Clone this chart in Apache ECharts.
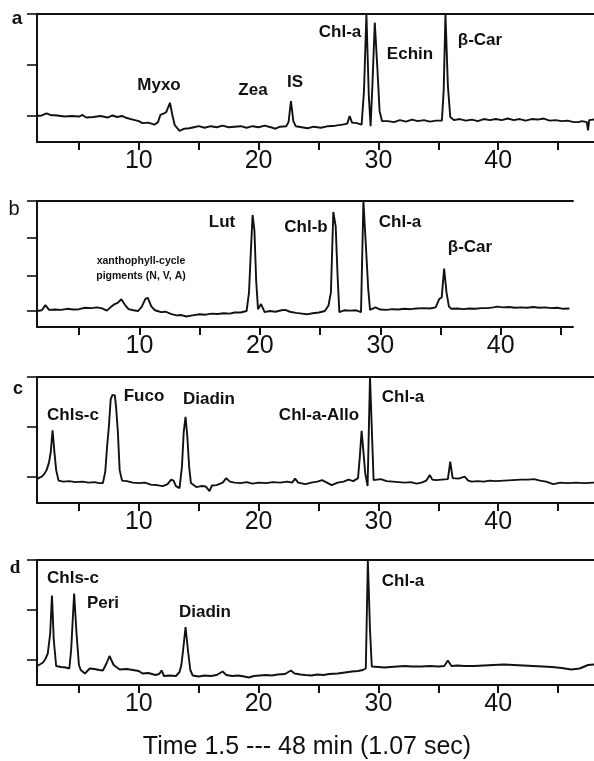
<!DOCTYPE html>
<html>
<head>
<meta charset="utf-8">
<script src="https://cdn.jsdelivr.net/npm/echarts@6/dist/echarts.min.js"></script>
<style>
  html, body { margin: 0; padding: 0; background: #fff; }
  #chart { width: 594px; height: 761px; }
</style>
</head>
<body>
<div id="chart"></div>
<script>
// Retention time (min) vs detector response for four pigment extracts.
const traceA = [[1.5,0],[1.9,0.01],[2.3,0.05],[2.6,0.02],[3.2,0.01],[3.8,-0.01],[4.4,0],[5.0,-0.01],[5.3,0.02],[5.6,-0.03],[6.2,-0.02],[6.8,0],[7.4,-0.03],[7.8,0.01],[8.2,-0.02],[8.6,0],[9.0,-0.04],[9.5,-0.07],[10.0,-0.1],[10.3,-0.14],[10.8,-0.13],[11.3,-0.17],[11.6,-0.12],[11.8,0.02],[12.1,0.05],[12.3,0.08],[12.6,0.26],[12.8,0.02],[13.0,-0.18],[13.4,-0.29],[13.8,-0.25],[14.2,-0.24],[14.6,-0.22],[15.0,-0.2],[15.5,-0.23],[16.0,-0.2],[16.5,-0.22],[17.0,-0.19],[17.5,-0.22],[18.0,-0.21],[18.5,-0.2],[19.0,-0.23],[19.5,-0.2],[20.0,-0.22],[20.5,-0.19],[21.0,-0.22],[21.4,-0.25],[21.8,-0.21],[22.3,-0.2],[22.5,-0.12],[22.7,0.29],[22.9,-0.1],[23.1,-0.2],[23.6,-0.22],[24.1,-0.24],[24.6,-0.21],[25.2,-0.23],[25.8,-0.2],[26.4,-0.19],[27.0,-0.17],[27.4,-0.15],[27.6,0.0],[27.8,-0.13],[28.2,-0.14],[28.6,-0.17],[28.8,0.5],[29.0,2.0],[29.2,0.4],[29.35,-0.2],[29.5,0.6],[29.7,1.83],[29.9,1.0],[30.1,0.1],[30.3,-0.1],[30.8,-0.1],[31.3,-0.12],[31.8,-0.08],[32.3,-0.11],[32.8,-0.07],[33.3,-0.1],[33.8,-0.08],[34.3,-0.11],[34.8,-0.09],[35.3,-0.09],[35.45,0.5],[35.6,2.0],[35.8,0.6],[36.0,-0.02],[36.3,-0.08],[36.8,-0.06],[37.3,-0.09],[37.8,-0.07],[38.3,-0.1],[38.8,-0.06],[39.3,-0.08],[39.8,-0.06],[40.3,-0.08],[40.8,-0.05],[41.3,-0.08],[41.8,-0.06],[42.3,-0.09],[42.8,-0.06],[43.3,-0.07],[43.8,-0.05],[44.3,-0.09],[44.8,-0.08],[45.3,-0.1],[45.8,-0.09],[46.3,-0.12],[46.7,-0.12],[47.0,-0.1],[47.4,-0.12],[47.5,-0.28],[47.6,-0.08],[48,-0.07]];

const traceB = [[1.5,0],[1.9,0.02],[2.2,0.16],[2.5,0.03],[3.0,0.04],[3.5,0.03],[4.0,0.06],[4.5,0.04],[5.0,0.05],[5.5,0.09],[6.0,0.08],[6.5,0.1],[6.9,0.07],[7.3,0.01],[7.6,0.1],[7.9,0.18],[8.2,0.22],[8.5,0.32],[8.8,0.17],[9.1,0.05],[9.5,0.02],[9.9,0.0],[10.2,0.12],[10.5,0.33],[10.7,0.36],[11.0,0.12],[11.3,0.02],[11.8,-0.03],[12.2,-0.02],[12.6,-0.08],[13.1,-0.12],[13.5,-0.11],[13.9,-0.15],[14.4,-0.12],[15.0,-0.09],[15.5,-0.1],[16.0,-0.07],[16.5,-0.08],[17.0,-0.06],[17.5,-0.07],[17.9,-0.04],[18.4,-0.04],[18.9,0.0],[19.1,0.5],[19.25,1.6],[19.4,2.62],[19.55,2.2],[19.7,0.8],[19.85,0.05],[20.1,0.19],[20.4,-0.03],[20.8,0.0],[21.3,-0.02],[21.8,0.02],[22.1,0.03],[22.5,-0.02],[23.0,-0.05],[23.5,-0.07],[23.9,-0.09],[24.4,-0.06],[24.9,-0.04],[25.4,0.0],[25.7,0.15],[25.9,0.5],[26.1,2.7],[26.3,2.3],[26.45,1.0],[26.6,-0.03],[27.0,0.02],[27.5,0.01],[28.0,0.02],[28.4,-0.03],[28.5,1.5],[28.6,3.0],[28.8,1.8],[29.0,0.6],[29.15,0.03],[29.6,0.1],[30.0,0.04],[30.5,0.03],[31.0,0.05],[31.5,0.04],[32.0,0.06],[32.5,0.05],[33.0,0.07],[33.6,0.08],[34.1,0.07],[34.6,0.1],[34.9,0.33],[35.1,0.37],[35.3,1.16],[35.5,0.5],[35.7,0.12],[35.9,0.06],[36.4,0.07],[36.9,0.05],[37.4,0.07],[37.9,0.06],[38.4,0.08],[38.9,0.08],[39.4,0.1],[39.7,0.12],[40.2,0.1],[40.7,0.11],[41.2,0.09],[41.7,0.1],[42.2,0.09],[42.7,0.11],[43.2,0.09],[43.7,0.1],[44.2,0.08],[44.7,0.09],[45.2,0.06],[45.7,0.07]];

const traceC = [[1.5,-0.05],[1.7,-0.02],[1.9,0.0],[2.1,0.05],[2.3,0.13],[2.5,0.28],[2.65,0.5],[2.8,0.93],[2.95,0.5],[3.1,0.13],[3.3,-0.08],[3.7,-0.1],[4.2,-0.09],[4.7,-0.11],[5.3,-0.1],[5.8,-0.12],[6.3,-0.11],[6.7,-0.13],[7.0,-0.13],[7.2,0.1],[7.35,0.6],[7.5,1.0],[7.65,1.55],[7.8,1.64],[8.0,1.63],[8.1,1.4],[8.25,0.9],[8.4,0.13],[8.6,-0.08],[9.0,-0.09],[9.5,-0.12],[10.0,-0.13],[10.5,-0.12],[11.0,-0.16],[11.5,-0.17],[12.0,-0.19],[12.4,-0.15],[12.7,-0.06],[12.9,-0.08],[13.1,-0.19],[13.4,-0.23],[13.6,0.2],[13.75,0.9],[13.9,1.2],[14.05,0.8],[14.2,0.2],[14.35,-0.13],[14.8,-0.21],[15.2,-0.19],[15.6,-0.2],[15.9,-0.29],[16.1,-0.18],[16.5,-0.17],[17.0,-0.12],[17.3,-0.03],[17.6,-0.1],[18.0,-0.12],[18.5,-0.13],[19.0,-0.11],[19.5,-0.14],[20.0,-0.12],[20.6,-0.13],[21.2,-0.11],[21.8,-0.12],[22.4,-0.1],[22.8,-0.12],[23.05,-0.04],[23.3,-0.12],[23.9,-0.15],[24.4,-0.12],[24.9,-0.1],[25.3,-0.07],[25.7,-0.12],[26.1,-0.17],[26.6,-0.12],[27.1,-0.1],[27.5,-0.06],[27.9,-0.09],[28.3,-0.03],[28.45,0.4],[28.6,0.92],[28.75,0.5],[28.9,0.07],[29.1,-0.19],[29.3,2.0],[29.45,2.0],[29.6,-0.07],[30.2,-0.05],[30.7,-0.09],[31.2,-0.1],[31.7,-0.11],[32.2,-0.12],[32.7,-0.11],[33.2,-0.14],[33.6,-0.12],[34.0,-0.08],[34.3,0.03],[34.5,-0.06],[34.8,-0.07],[35.3,-0.06],[35.8,-0.05],[36.0,0.3],[36.2,-0.03],[36.7,-0.04],[37.2,0.0],[37.5,-0.08],[37.8,-0.1],[38.3,-0.09],[38.8,-0.1],[39.3,-0.08],[39.8,-0.09],[40.5,-0.08],[41.2,-0.07],[41.9,-0.06],[42.5,-0.06],[43.0,-0.05],[43.5,-0.08],[44.0,-0.1],[44.6,-0.15],[45.2,-0.12],[45.8,-0.13],[46.5,-0.12],[47.2,-0.13],[48,-0.12]];

const traceD = [[1.5,-0.12],[1.8,-0.08],[2.0,-0.05],[2.2,0.02],[2.4,0.13],[2.6,0.53],[2.75,1.29],[2.9,0.4],[3.1,-0.12],[3.5,-0.14],[3.9,-0.15],[4.2,-0.17],[4.35,0.2],[4.6,1.33],[4.8,0.53],[5.0,-0.1],[5.15,-0.2],[5.5,-0.27],[5.9,-0.17],[6.3,-0.18],[6.7,-0.2],[7.0,-0.21],[7.3,-0.07],[7.55,0.08],[7.7,0.05],[7.9,-0.1],[8.4,-0.19],[9.0,-0.18],[9.5,-0.2],[10.0,-0.22],[10.3,-0.27],[10.8,-0.26],[11.4,-0.3],[11.7,-0.28],[11.9,-0.21],[12.1,-0.32],[12.6,-0.31],[13.1,-0.32],[13.4,-0.24],[13.55,-0.1],[13.7,0.2],[13.9,0.66],[14.1,0.2],[14.3,-0.2],[14.5,-0.31],[15.0,-0.33],[15.5,-0.31],[16.0,-0.32],[16.5,-0.3],[17.0,-0.23],[17.3,-0.3],[17.8,-0.32],[18.3,-0.31],[18.8,-0.33],[19.2,-0.35],[19.6,-0.32],[20.1,-0.31],[20.6,-0.3],[21.1,-0.31],[21.6,-0.29],[22.2,-0.28],[22.7,-0.21],[23.0,-0.27],[23.5,-0.29],[23.9,-0.3],[24.4,-0.31],[24.9,-0.29],[25.4,-0.3],[25.9,-0.28],[26.6,-0.27],[27.2,-0.25],[27.8,-0.23],[28.3,-0.22],[28.7,-0.2],[28.95,-0.17],[29.12,2.0],[29.3,0.6],[29.45,-0.13],[30.0,-0.14],[30.5,-0.15],[31.0,-0.14],[31.6,-0.13],[32.2,-0.12],[32.8,-0.13],[33.6,-0.13],[34.3,-0.12],[35.0,-0.13],[35.5,-0.12],[35.8,-0.01],[36.1,-0.12],[36.6,-0.11],[37.2,-0.12],[38.0,-0.12],[38.8,-0.11],[39.6,-0.1],[40.5,-0.09],[41.3,-0.1],[42.1,-0.11],[42.9,-0.12],[43.7,-0.13],[44.5,-0.14],[45.3,-0.16],[46.1,-0.19],[46.8,-0.17],[47.5,-0.1],[48,-0.09]];

// Axis ticks and labels
const timeTicks = [5, 10, 15, 20, 25, 30, 35, 40, 45];
const timeLabels = [10, 20, 30, 40];
const responseTicksA = [0, 1, 2];
const responseTicksB = [0, 0.95, 2, 3];
const responseTicksC = [0, 1, 2];
const responseTicksD = [0, 1, 2];

// Peak names per panel
const peaksA = ['Myxo', 'Zea', 'IS', 'Chl-a', 'Echin', 'β-Car'];
const peaksB = ['xanthophyll-cycle', 'pigments (N, V, A)', 'Lut', 'Chl-b', 'Chl-a', 'β-Car'];
const peaksC = ['Chls-c', 'Fuco', 'Diadin', 'Chl-a-Allo', 'Chl-a'];
const peaksD = ['Chls-c', 'Peri', 'Diadin', 'Chl-a'];
const panelLetters = ['a', 'b', 'c', 'd'];
const axisTitle = 'Time 1.5 --- 48 min (1.07 sec)';

// Layout
const panels = [
  { trace: traceA, yTicks: responseTicksA, yMin: -0.51, yMax: 2, xMax: 48, top: 14, height: 128, width: 560 },
  { trace: traceB, yTicks: responseTicksB, yMin: -0.436, yMax: 3, xMax: 46, top: 201, height: 126, width: 536 },
  { trace: traceC, yTicks: responseTicksC, yMin: -0.53, yMax: 2, xMax: 48, top: 377, height: 126, width: 560 },
  { trace: traceD, yTicks: responseTicksD, yMin: -0.5, yMax: 2, xMax: 48, top: 560, height: 125, width: 560 }
];
const peakPos = [
  [[159, 85], [253, 90], [295, 82], [340, 32], [410, 54], [480, 40]],
  [[141, 261], [141, 276], [222, 222], [306, 227], [400, 222], [470, 247]],
  [[73, 415], [144, 396], [209, 399], [319, 415], [403, 397]],
  [[73, 578], [103, 603], [205, 612], [403, 581]]
];
const peakLists = [peaksA, peaksB, peaksC, peaksD];
const letterStyle = [
  { x: 17, y: 19, font: 'bold 19px "Liberation Sans"' },
  { x: 14, y: 209, font: '20px "Liberation Sans"' },
  { x: 18, y: 389, font: 'bold 18px "Liberation Sans"' },
  { x: 15, y: 568, font: 'bold 19px "Liberation Serif"' }
];

const INK = '#111';
const grid = [], xAxis = [], yAxis = [], series = [], graphic = [];

panels.forEach((p, i) => {
  grid.push({ left: 37, top: p.top, width: p.width, height: p.height });
  xAxis.push({
    type: 'value', gridIndex: i, min: 1.5, max: p.xMax, position: 'bottom',
    axisLine: { onZero: false, lineStyle: { color: INK, width: 2 } },
    axisTick: { customValues: timeTicks, length: 8, lineStyle: { color: INK, width: 2 } },
    axisLabel: { customValues: timeLabels, color: INK, fontSize: 25, margin: 7,
      fontFamily: '"Liberation Sans", Arial, sans-serif' },
    splitLine: { show: false }
  });
  xAxis.push({
    type: 'value', gridIndex: i, min: 1.5, max: p.xMax, position: 'top',
    axisLine: { onZero: false, lineStyle: { color: INK, width: 2 } },
    axisTick: { show: false }, axisLabel: { show: false }, splitLine: { show: false }
  });
  yAxis.push({
    type: 'value', gridIndex: i, min: p.yMin, max: p.yMax,
    axisLine: { show: true, onZero: false, lineStyle: { color: INK, width: 2 } },
    axisTick: { show: true, customValues: p.yTicks, length: 10, lineStyle: { color: INK, width: 1.6 } },
    axisLabel: { show: false }, splitLine: { show: false }
  });
  series.push({
    type: 'line', xAxisIndex: 2 * i, yAxisIndex: i, data: p.trace,
    showSymbol: false, silent: true, clip: true,
    lineStyle: { color: INK, width: 1.9 }
  });
  peakLists[i].forEach((name, k) => {
    const small = i === 1 && k < 2;
    graphic.push({
      type: 'text', x: peakPos[i][k][0], y: peakPos[i][k][1],
      style: {
        text: name, fill: INK, align: 'center', verticalAlign: 'middle',
        font: small ? 'bold 10.5px "Liberation Sans"' : 'bold 17px "Liberation Sans"'
      }
    });
  });
  graphic.push({
    type: 'text', x: letterStyle[i].x, y: letterStyle[i].y,
    style: { text: panelLetters[i], fill: INK, align: 'center', verticalAlign: 'middle', font: letterStyle[i].font }
  });
});

graphic.push({
  type: 'text', x: 307, y: 747,
  style: { text: axisTitle, fill: INK, align: 'center', verticalAlign: 'middle', font: '25px "Liberation Sans"' }
});

const chart = echarts.init(document.getElementById('chart'), null, { renderer: 'canvas' });
chart.setOption({
  animation: false,
  backgroundColor: '#fff',
  grid, xAxis, yAxis, series, graphic
});
</script>
</body>
</html>
